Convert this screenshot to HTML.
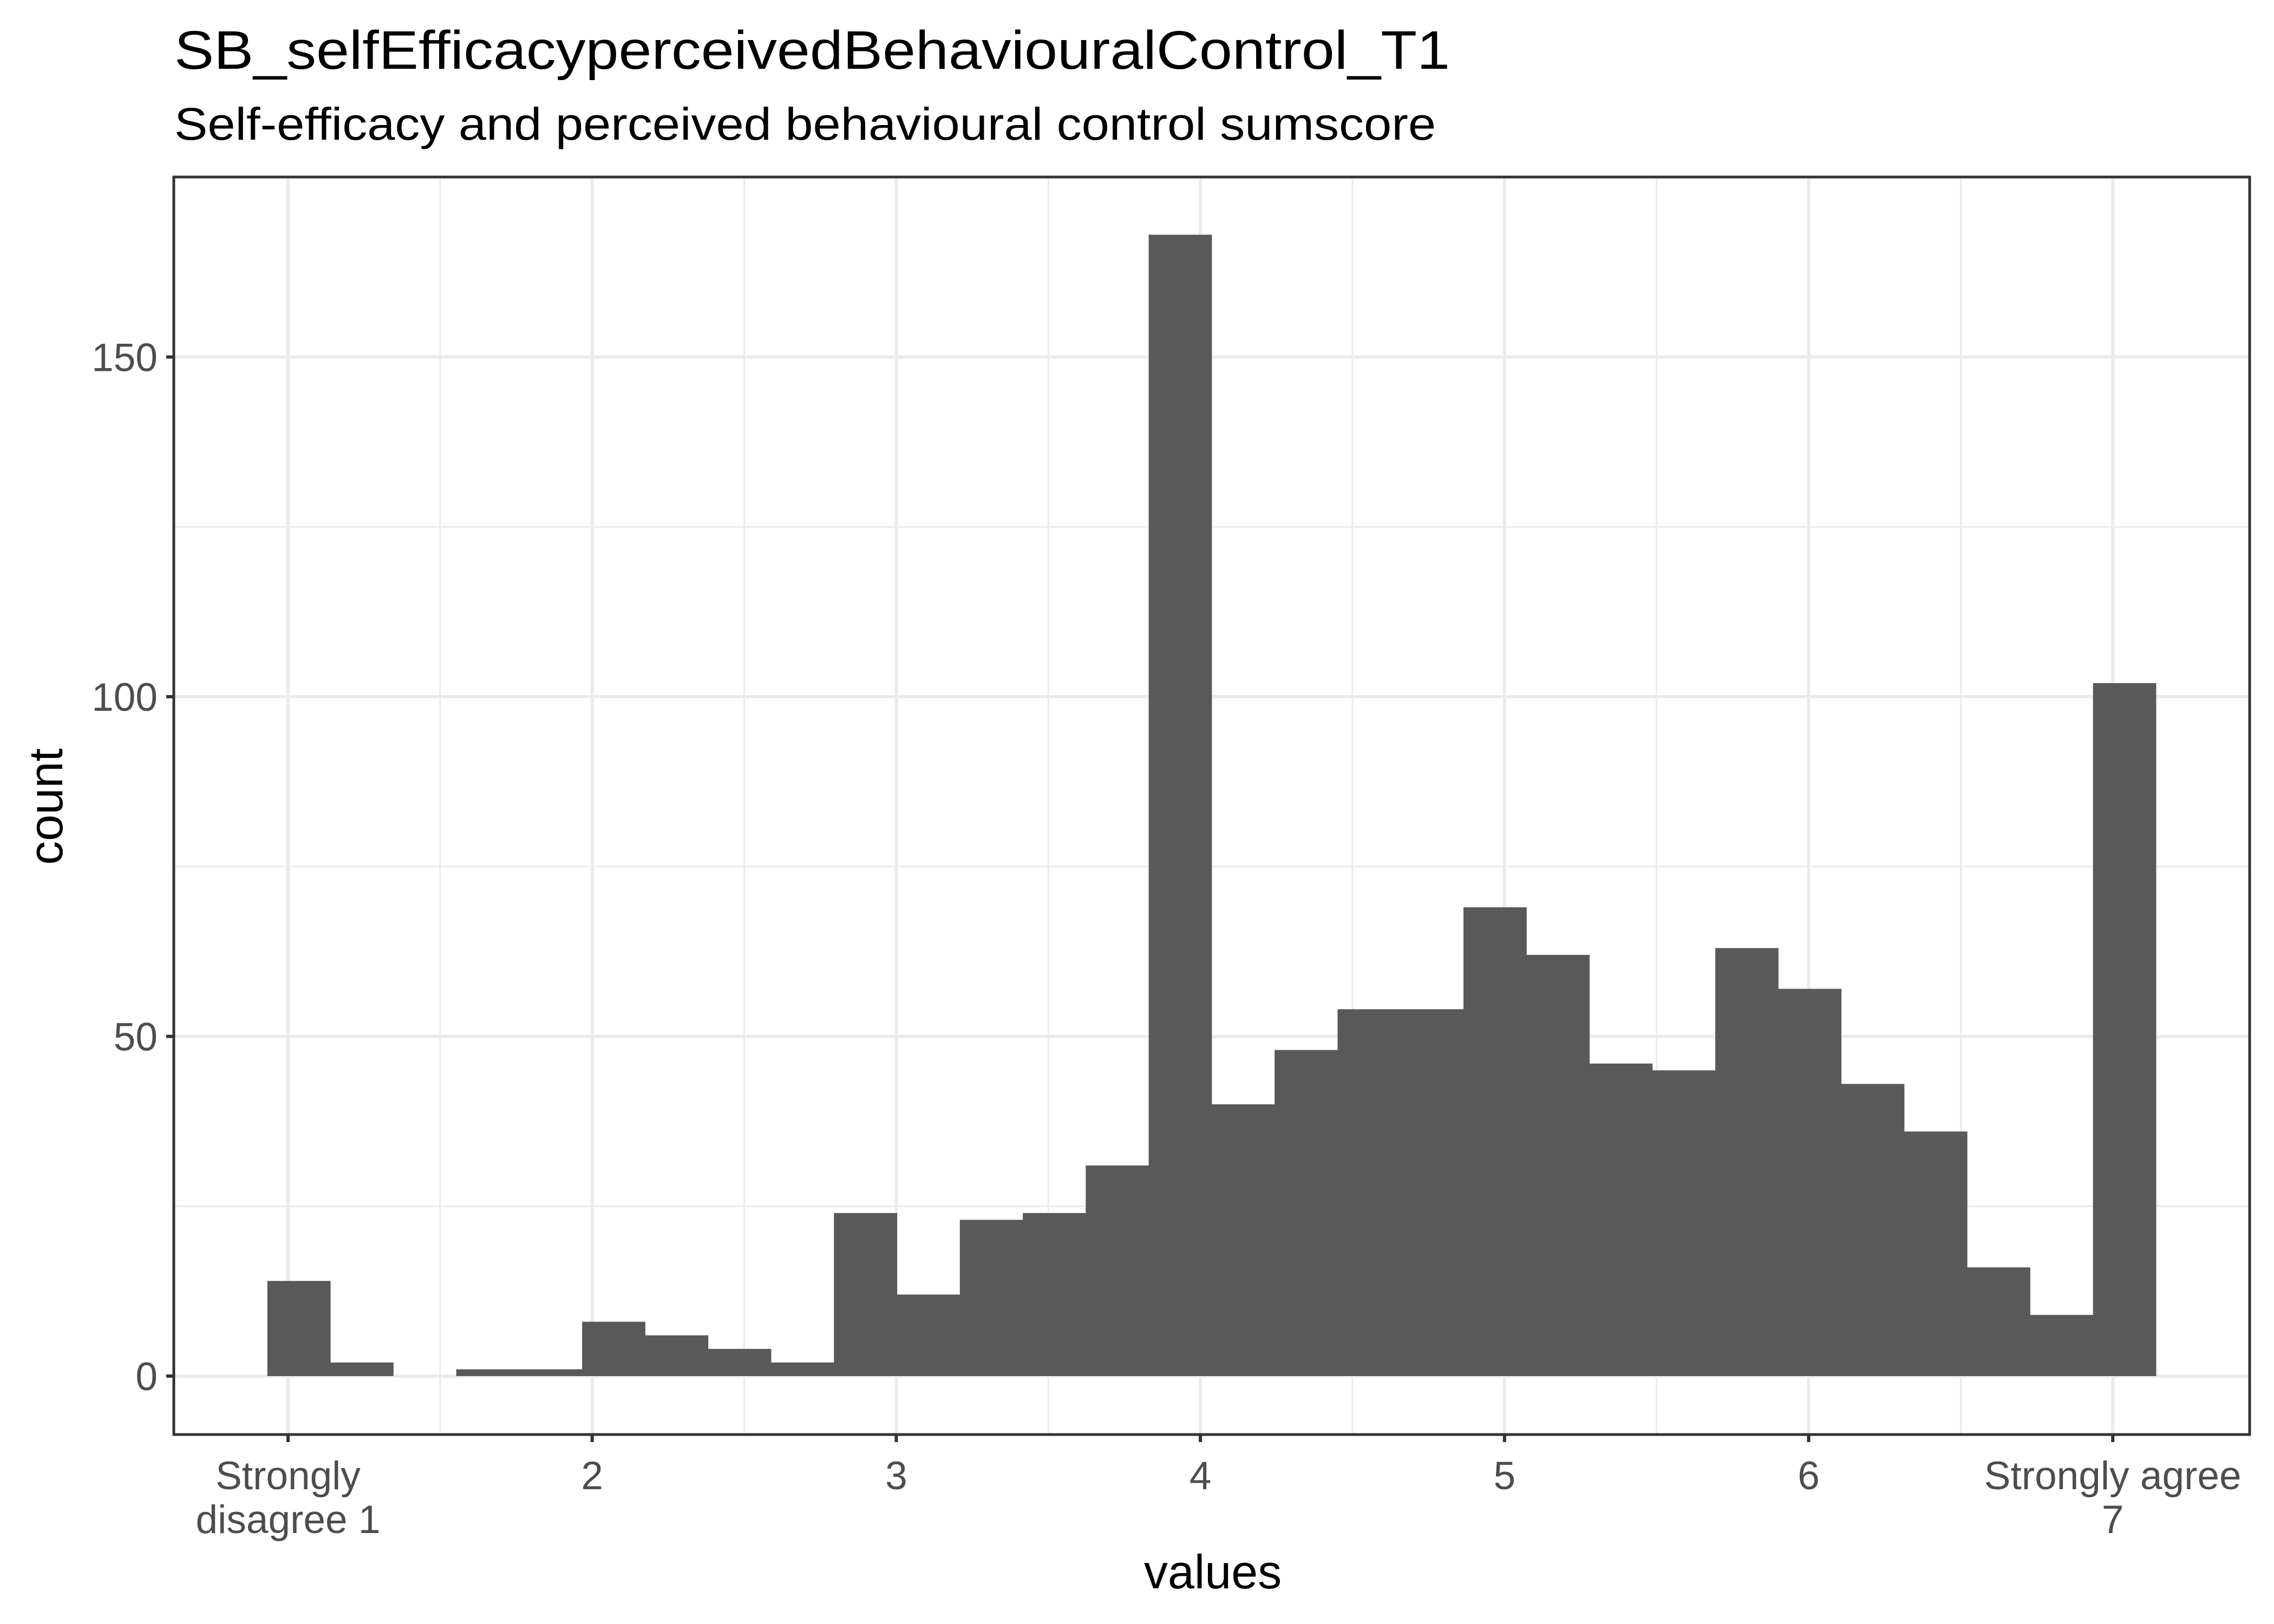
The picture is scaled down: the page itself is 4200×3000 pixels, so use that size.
<!DOCTYPE html>
<html><head><meta charset="utf-8"><style>html,body{margin:0;padding:0;background:#fff}svg{display:block}text{font-family:"Liberation Sans",Arial,sans-serif}</style></head>
<body>
<svg id="chart" width="4200" height="3000" viewBox="0 0 4200 3000" xmlns="http://www.w3.org/2000/svg">
<rect width="4200" height="3000" fill="#fff"/>
<text x="322" y="127" font-size="100" fill="#000" textLength="2356" lengthAdjust="spacingAndGlyphs">SB_selfEfficacyperceivedBehaviouralControl_T1</text>
<text x="322" y="258" font-size="84" fill="#000" textLength="2330" lengthAdjust="spacingAndGlyphs">Self-efficacy and perceived behavioural control sumscore</text>
<g id="grid"></g><g id="bars"></g><g id="axes"></g>
<text x="2240" y="2934" font-size="88" text-anchor="middle" fill="#000">values</text>
<text transform="translate(115,1490) rotate(-90)" font-size="88" text-anchor="middle" fill="#000">count</text>
</svg>
<script>
const counts = [14,2,0,1,1,8,6,4,2,24,12,23,24,31,168,40,48,54,54,69,62,46,45,63,57,43,36,16,9,102];
const binStart = 0.932;
const binWidth = 0.207;
const yTicks = [0,50,100,150];
const yMinor = [25,75,125];
const xTicks = [1,2,3,4,5,6,7];
const xTickLabels = [["Strongly","disagree 1"],["2"],["3"],["4"],["5"],["6"],["Strongly agree","7"]];
const xMinor = [1.5,2.5,3.5,4.5,5.5,6.5];
const P={l:321,r:4155,t:327,b:2650};
const xs=v=>532+(v-1)*561.7;
const ys=v=>2542-v*12.55;
const NS="http://www.w3.org/2000/svg";
function mk(tag,attrs,parent){const e=document.createElementNS(NS,tag);for(const k in attrs)e.setAttribute(k,attrs[k]);parent.appendChild(e);return e;}
const grid=document.getElementById('grid'),bars=document.getElementById('bars'),axes=document.getElementById('axes');
mk('rect',{x:P.l,y:P.t,width:P.r-P.l,height:P.b-P.t,fill:'#fff'},grid);
yMinor.forEach(v=>{const l=mk('line',{x1:P.l,x2:P.r,y1:ys(v),y2:ys(v),stroke:'#ebebeb','stroke-width':3},grid);

});
xMinor.forEach(v=>{const l=mk('line',{x1:xs(v),x2:xs(v),y1:P.t,y2:P.b,stroke:'#ebebeb','stroke-width':3},grid);

});
yTicks.forEach(v=>{const l=mk('line',{x1:P.l,x2:P.r,y1:ys(v),y2:ys(v),stroke:'#ebebeb','stroke-width':6},grid);

});
xTicks.forEach(v=>{const l=mk('line',{x1:xs(v),x2:xs(v),y1:P.t,y2:P.b,stroke:'#ebebeb','stroke-width':6},grid);

});
counts.forEach((c,i)=>{if(c<=0)return;const x0=xs(binStart+i*binWidth),x1=xs(binStart+(i+1)*binWidth);
const r=mk('rect',{x:x0,y:ys(c),width:x1-x0+0.5,height:ys(0)-ys(c),fill:'#595959'},bars);

});
const border=mk('rect',{x:P.l,y:P.t,width:P.r-P.l,height:P.b-P.t,fill:'none',stroke:'#333','stroke-width':5},axes);


yTicks.forEach(v=>{mk('line',{x1:P.l-14,x2:P.l,y1:ys(v),y2:ys(v),stroke:'#333','stroke-width':6},axes);
const t=mk('text',{x:P.l-30,y:ys(v)+26,'font-size':73,'text-anchor':'end',fill:'#4d4d4d'},axes);t.textContent=v;

});
xTicks.forEach((v,i)=>{mk('line',{x1:xs(v),x2:xs(v),y1:P.b,y2:P.b+14,stroke:'#333','stroke-width':6},axes);
xTickLabels[i].forEach((s,j)=>{const t=mk('text',{x:xs(v),y:2751+j*81,'font-size':73,'text-anchor':'middle',fill:'#4d4d4d'},axes);t.textContent=s;

});});
</script>
</body></html>
